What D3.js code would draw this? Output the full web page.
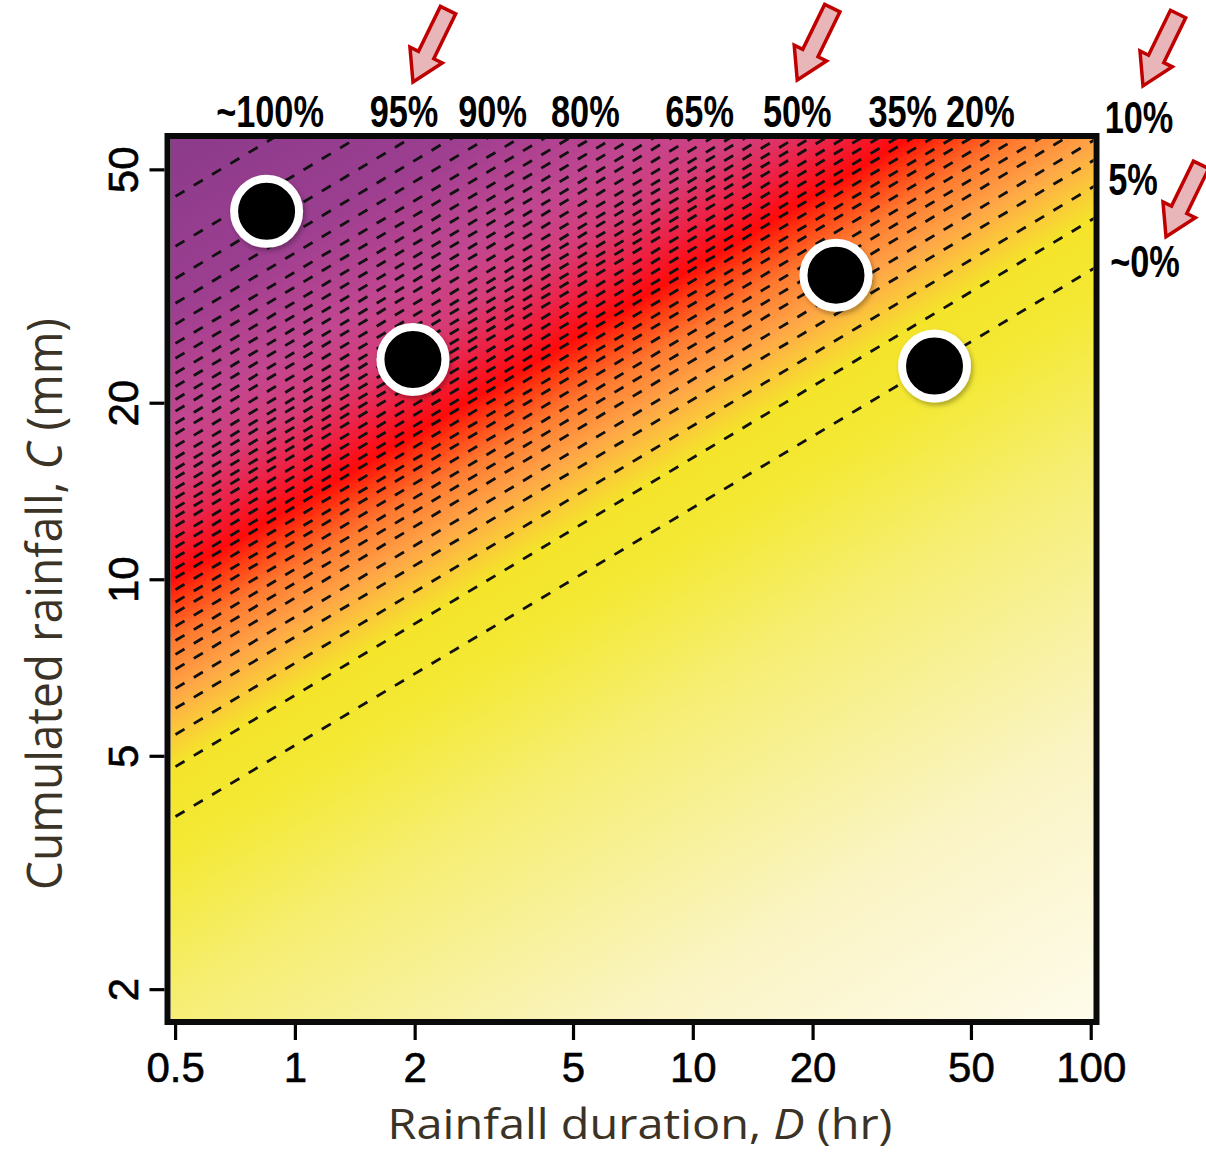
<!DOCTYPE html>
<html>
<head>
<meta charset="utf-8">
<script src="https://cdn.jsdelivr.net/npm/d3@7"></script>
<style>
  body { margin: 0; background: #fff; }
  svg { display: block; }
</style>
</head>
<body>
<div id="chart"></div>
<script>
// ---- data ----
var durationTicks = [0.5, 1, 2, 5, 10, 20, 50, 100];
var rainTicks = [2, 5, 10, 20, 50];

// exponent of the iso-probability lines, C ~ D^b
var exponent = 0.405;

// dashed iso-probability lines, given as cumulated rainfall (mm) at D = 1 hr
var contourC1hr = [59.5, 48.9, 43.1, 39.1, 36.0, 33.4, 31.5, 29.7, 28.2, 26.8,
                   25.6, 24.4, 23.4, 22.3, 21.3, 20.4, 19.7, 18.9, 18.2, 17.5,
                   16.9, 16.3, 15.6, 15.0, 14.4, 13.8, 13.3, 12.7, 12.1, 11.6,
                   11.0, 10.4, 9.85, 9.29, 8.62, 7.97, 7.19, 6.34, 5.21];

// background shading, colour stops along the same lines (C at D = 1 hr)
var shadeC1hr = [71.0, 39.4, 24.6, 19.4, 16.0, 13.4, 12.1, 10.4, 8.52, 7.28, 6.34, 4.54, 2.52, 0.82, 0.281];
var shadeColors = ["#8d3b8b", "#9b3e90", "#c24690", "#d53c78", "#ec2246", "#ff0a0a", "#ff3c12",
                   "#ff7a30", "#ffa547", "#fbc83a", "#f4e42a", "#f4e935", "#f6ee72", "#faf4c4", "#fefbea"];

// observed events
var eventD = [0.849, 1.98, 22.9, 40.5];
var eventC = [42.4, 23.7, 33.0, 23.1];

// probability labels
var topLabels = ["~100%", "95%", "90%", "80%", "65%", "50%", "35%", "20%"];
var topLabelD = [0.866, 1.88, 3.14, 5.37, 10.4, 18.3, 33.7, 52.8];
var sideLabels = ["10%", "5%", "~0%"];
var sideLabelC = [57.7, 45.2, 32.8];
var sideLabelX = [1139, 1133, 1145];

// highlighted labels get an arrow
var arrowLabels = ["95%", "50%", "10%", "~0%"];
var arrowOffset = [[9, -45], [0, -47], [4, -47], [21, -40]];

// ---- layout ----
var W = 1206, H = 1152;
var frame = {left: 167.5, right: 1096.5, top: 136, bottom: 1022};

var x = d3.scaleLog().domain([0.4785, 103.4]).range([frame.left, frame.right]);
var y = d3.scaleLog().domain([57.0, 1.758]).range([frame.top, frame.bottom]);

var svg = d3.select("#chart").append("svg")
    .attr("width", W)
    .attr("height", H);

var defs = svg.append("defs");

defs.append("clipPath").attr("id", "plotclip")
  .append("rect")
    .attr("x", frame.left + 3).attr("y", frame.top + 3)
    .attr("width", frame.right - frame.left - 6)
    .attr("height", frame.bottom - frame.top - 6);

var shadow = defs.append("filter").attr("id", "shadow")
    .attr("x", "-30%").attr("y", "-30%").attr("width", "160%").attr("height", "160%");
shadow.append("feDropShadow")
    .attr("dx", 2).attr("dy", 3).attr("stdDeviation", 2.5)
    .attr("flood-color", "#000").attr("flood-opacity", 0.3);

// line geometry in pixel space
var D0 = x.domain()[0], D1 = x.domain()[1];
function lineY(c, D) { return y(c * Math.pow(D, exponent)); }
var slope = (lineY(10, D1) - lineY(10, D0)) / (x(D1) - x(D0));
var nlen = Math.sqrt(1 + slope * slope);
var nx = -slope / nlen, ny = 1 / nlen;   // normal pointing down-right

// gradient across the lines
var yTop = lineY(shadeC1hr[0], D0),
    yBot = lineY(shadeC1hr[shadeC1hr.length - 1], D0);
var dist = (yBot - yTop) * ny;
var grad = defs.append("linearGradient")
    .attr("id", "shade")
    .attr("gradientUnits", "userSpaceOnUse")
    .attr("x1", x(D0)).attr("y1", yTop)
    .attr("x2", x(D0) + nx * dist).attr("y2", yTop + ny * dist);

grad.selectAll("stop")
    .data(shadeC1hr)
  .enter().append("stop")
    .attr("offset", function(c) { return (lineY(c, D0) - yTop) / (yBot - yTop); })
    .attr("stop-color", function(c, i) { return shadeColors[i]; });

var plot = svg.append("g").attr("clip-path", "url(#plotclip)");

plot.append("rect")
    .attr("x", frame.left).attr("y", frame.top)
    .attr("width", frame.right - frame.left)
    .attr("height", frame.bottom - frame.top)
    .attr("fill", "url(#shade)");

// dashed iso-probability lines
var line = d3.line()
    .x(function(d) { return x(d[0]); })
    .y(function(d) { return y(d[1]); });

plot.append("g").selectAll("path")
    .data(contourC1hr)
  .enter().append("path")
    .attr("d", function(c) {
      return line([[D0, c * Math.pow(D0, exponent)], [D1, c * Math.pow(D1, exponent)]]);
    })
    .attr("fill", "none")
    .attr("stroke", "#111")
    .attr("stroke-width", 2.8)
    .attr("stroke-dasharray", "10.5,10.8")
    .attr("stroke-dashoffset", 12);

// events
svg.append("g").selectAll("circle")
    .data(eventD)
  .enter().append("circle")
    .attr("cx", function(d) { return x(d); })
    .attr("cy", function(d, i) { return y(eventC[i]); })
    .attr("r", 32.5)
    .attr("fill", "#000")
    .attr("stroke", "#fff")
    .attr("stroke-width", 8)
    .attr("filter", "url(#shadow)");

// frame
svg.append("rect")
    .attr("x", frame.left).attr("y", frame.top)
    .attr("width", frame.right - frame.left)
    .attr("height", frame.bottom - frame.top)
    .attr("fill", "none")
    .attr("stroke", "#0a0a0a")
    .attr("stroke-width", 6);

// axes
var tickFont = "'Liberation Sans', Arial, sans-serif";

var xAxis = svg.append("g")
    .attr("transform", "translate(0," + (frame.bottom + 3) + ")")
    .call(d3.axisBottom(x).tickValues(durationTicks).tickFormat(d3.format("")).tickSize(15).tickPadding(12));
xAxis.select(".domain").remove();
xAxis.selectAll("line").attr("stroke", "#000").attr("stroke-width", 3.2);
xAxis.selectAll("text")
    .attr("fill", "#000")
    .attr("stroke", "#000")
    .attr("stroke-width", 0.6)
    .style("font-family", tickFont)
    .style("font-size", "42px");

var yAxis = svg.append("g")
    .attr("transform", "translate(" + (frame.left - 3) + ",0)")
    .call(d3.axisLeft(y).tickValues(rainTicks).tickFormat(d3.format("")).tickSize(15));
yAxis.select(".domain").remove();
yAxis.selectAll("line").attr("stroke", "#000").attr("stroke-width", 3.2);
yAxis.selectAll("text")
    .attr("x", 0).attr("y", 0).attr("dy", 0)
    .attr("transform", "translate(-27,0) rotate(-90)")
    .attr("text-anchor", "middle")
    .attr("fill", "#000")
    .attr("stroke", "#000")
    .attr("stroke-width", 0.6)
    .style("font-family", tickFont)
    .style("font-size", "42px");

// axis titles, squeezed to the width they have in the figure
var titleFont = "'Open Sans', 'Noto Sans', sans-serif";

function squeezedTitle(parts, cx, cy, rot, width, size) {
  var g = svg.append("g").attr("transform", "translate(" + cx + "," + cy + ") rotate(" + rot + ")");
  var t = g.append("text")
      .attr("text-anchor", "middle")
      .attr("fill", "#3b3326")
      .style("font-family", titleFont)
      .style("font-size", size + "px");
  parts.forEach(function(p) {
    t.append("tspan").style("font-style", p[1] ? "italic" : "normal").text(p[0]);
  });
  var w = t.node().getComputedTextLength();
  t.attr("transform", "scale(" + (width / w) + ",1)");
}

squeezedTitle([["Rainfall duration, ", 0], ["D", 1], [" (hr)", 0]], 640, 1139, 0, 505, 42);
squeezedTitle([["Cumulated rainfall, ", 0], ["C", 1], [" (mm)", 0]], 62, 604, -90, 572, 50);

// probability labels
var labelFont = "'Liberation Sans', Arial, sans-serif";
var labelPos = {};

topLabels.forEach(function(t, i) { labelPos[t] = [x(topLabelD[i]), 127]; });
sideLabels.forEach(function(t, i) { labelPos[t] = [sideLabelX[i], y(sideLabelC[i])]; });

svg.append("g").selectAll("text")
    .data(topLabels.concat(sideLabels))
  .enter().append("text")
    .attr("transform", function(t) {
      return "translate(" + labelPos[t][0] + "," + labelPos[t][1] + ") scale(0.78,1)";
    })
    .attr("text-anchor", "middle")
    .attr("fill", "#000")
    .style("font-family", labelFont)
    .style("font-weight", "bold")
    .style("font-size", "44px")
    .text(function(t) { return t; });

// red arrows
var arrowShape = [[0, 0], [-30, -18], [-30, -8.5], [-80, -8.5], [-80, 8.5], [-30, 8.5], [-30, 18]];

svg.append("g").selectAll("path")
    .data(arrowLabels)
  .enter().append("path")
    .attr("transform", function(t, i) {
      var p = labelPos[t];
      return "translate(" + (p[0] + arrowOffset[i][0]) + "," + (p[1] + arrowOffset[i][1]) + ") rotate(116)";
    })
    .attr("d", "M" + arrowShape.join("L") + "Z")
    .attr("fill", "#e8b6b9")
    .attr("stroke", "#c00000")
    .attr("stroke-width", 3.5)
    .attr("stroke-linejoin", "miter");
</script>
</body>
</html>
